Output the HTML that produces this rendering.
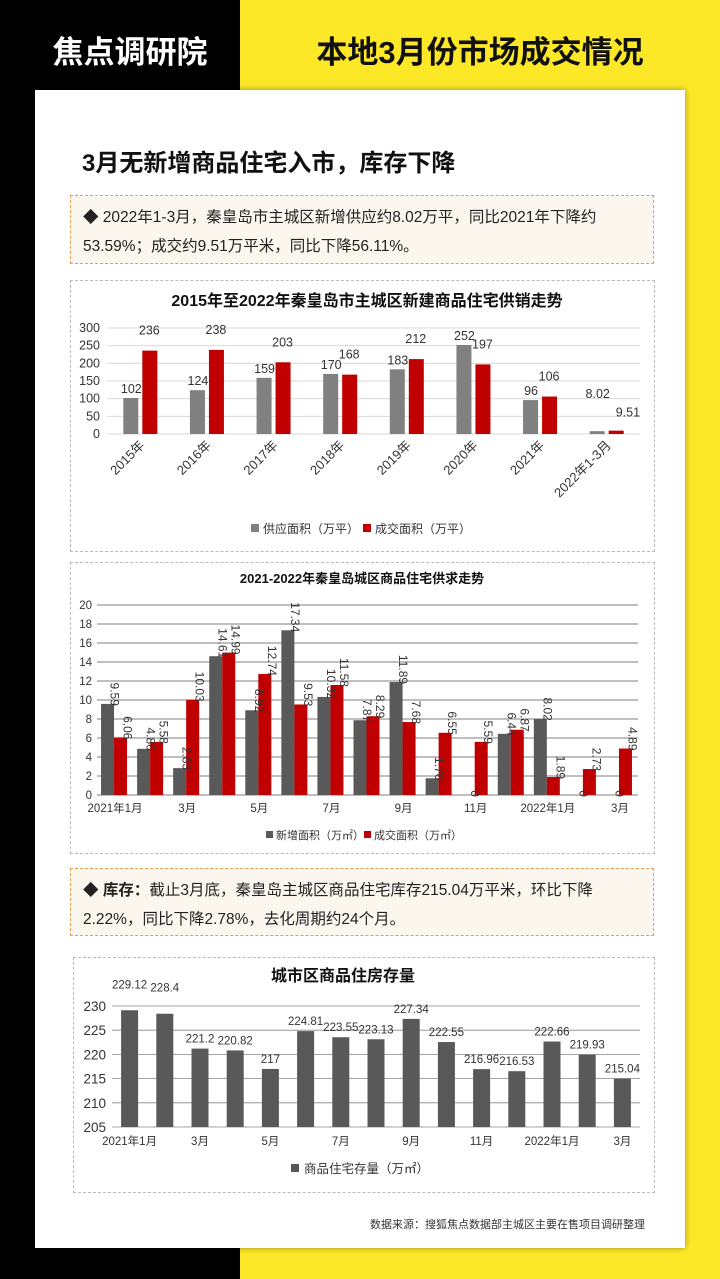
<!DOCTYPE html>
<html><head><meta charset="utf-8">
<style>
body{margin:0;width:720px;height:1279px;position:relative;overflow:hidden;font-family:"Liberation Sans","Noto Sans CJK SC",sans-serif;background:linear-gradient(to right,#000 0,#000 240px,#fde828 240px);}
.abs{position:absolute}
#card{left:35px;top:90px;width:650px;height:1158px;background:#fff;box-shadow:0 0 6px rgba(0,0,0,.4)}
.tb{background:#fbf6ee;border:1px dashed #e8a050;font-size:15.5px;color:#222;line-height:29px;padding:7px 10px 0 12px;box-sizing:border-box}
.cb{border:1px dashed #bbb;box-sizing:border-box}
svg text{font-family:"Liberation Sans","Noto Sans CJK SC",sans-serif}
</style></head><body>
<div class="abs" style="left:0;top:0;width:260px;height:100px;color:#fff;font-size:31px;font-weight:bold;text-align:center;line-height:105px">焦点调研院</div>
<div class="abs" style="left:240px;top:0;width:480px;height:100px;color:#111;font-size:31px;font-weight:bold;text-align:center;line-height:105px">本地3月份市场成交情况</div>
<div id="card" class="abs"></div>
<div class="abs" style="left:82px;top:143px;font-size:24px;font-weight:bold;color:#111">3月无新增商品住宅入市，库存下降</div>
<div class="abs tb" style="left:70px;top:195px;width:584px;height:69px">◆ 2022年1-3月，秦皇岛市主城区新增供应约8.02万平，同比2021年下降约53.59%；成交约9.51万平米，同比下降56.11%。</div>
<div class="abs cb" style="left:70px;top:280px;width:585px;height:272px"></div>
<div class="abs cb" style="left:70px;top:562px;width:585px;height:292px"></div>
<div class="abs tb" style="left:70px;top:868px;width:584px;height:68px">◆ <b>库存：</b>截止3月底，秦皇岛主城区商品住宅库存215.04万平米，环比下降2.22%，同比下降2.78%，去化周期约24个月。</div>
<div class="abs cb" style="left:73px;top:957px;width:582px;height:236px"></div>
<div class="abs" style="left:370px;top:1216px;font-size:11px;color:#333">数据来源：搜狐焦点数据部主城区主要在售项目调研整理</div>
<svg id="s" class="abs" style="left:0;top:0" width="720" height="1279"></svg>
<script>
const c1Cats=["2015年","2016年","2017年","2018年","2019年","2020年","2021年","2022年1-3月"];
const c1Supply=[102,124,159,170,183,252,96,8.02];
const c1Sales=[236,238,203,168,212,197,106,9.51];
const c1Ticks=[0,50,100,150,200,250,300];
const c2Labels=["2021年1月","","3月","","5月","","7月","","9月","","11月","","2022年1月","","3月"];
const c2New=[9.59,4.86,2.83,14.61,8.92,17.34,10.32,7.87,11.89,1.76,0,6.44,8.02,0,0];
const c2Sold=[6.06,5.58,10.03,14.99,12.74,9.53,11.58,8.29,7.68,6.55,5.59,6.87,1.89,2.73,4.89];
const c2Ticks=[0,2,4,6,8,10,12,14,16,18,20];
const c3Stock=[229.12,228.4,221.2,220.82,217,224.81,223.55,223.13,227.34,222.55,216.96,216.53,222.66,219.93,215.04];
const c3Ticks=[205,210,215,220,225,230];
const S=document.getElementById('s');
function el(t,a,txt,name){const e=document.createElementNS('http://www.w3.org/2000/svg',t);for(const k in a)e.setAttribute(k,a[k]);if(txt!==undefined)e.textContent=txt;


S.appendChild(e);return e;}
const G='#808080',R='#c00000',D='#595959';
// chart1
(function(){const x0=107,x1=640,yT=328,yB=434,mx=300;const y=v=>yB-(yB-yT)*v/mx;const gw=(x1-x0)/c1Cats.length;
el('text',{x:367,y:306,'text-anchor':'middle','font-size':16,'font-weight':'bold',fill:'#111'},'2015年至2022年秦皇岛市主城区新建商品住宅供销走势','chart1-title');
c1Ticks.forEach(t=>{el('line',{x1:x0,x2:x1,y1:y(t),y2:y(t),stroke:'#d9d9d9'},undefined,'chart1-gridline');el('text',{x:100,y:y(t)+4,'text-anchor':'end','font-size':12.5,fill:'#333'},t,'chart1-y-tick');});
c1Cats.forEach((c,i)=>{const cx=x0+gw*(i+.5);
el('rect',{x:cx-17,y:y(c1Supply[i]),width:15,height:yB-y(c1Supply[i]),fill:G},undefined,'chart1-supply-bar');
el('rect',{x:cx+2,y:y(c1Sales[i]),width:15,height:yB-y(c1Sales[i]),fill:R},undefined,'chart1-sales-bar');
const last=i==c1Cats.length-1;
el('text',{x:cx-9,y:last?y(c1Supply[i])-33:y(c1Supply[i])-5,'text-anchor':'middle','font-size':12.5,fill:'#333'},c1Supply[i],'chart1-supply-label');
el('text',{x:cx+9,y:last?y(c1Sales[i])-14:y(c1Sales[i])-16,'text-anchor':last?'start':'middle','font-size':12.5,fill:'#333'},c1Sales[i],'chart1-sales-label');
el('text',{x:cx+5,y:446,'text-anchor':'end','font-size':13,fill:'#333',transform:`rotate(-45 ${cx+5} 446)`},c,'chart1-x-label');});
el('rect',{x:251,y:524,width:8,height:8,fill:G},undefined,'legend-supply-swatch');el('text',{x:263,y:533,'font-size':12,fill:'#333'},'供应面积（万平）','legend-supply');
el('rect',{x:363,y:524,width:8,height:8,fill:R},undefined,'legend-sales-swatch');el('text',{x:375,y:533,'font-size':12,fill:'#333'},'成交面积（万平）','legend-sales');
})();
// chart2
(function(){const x0=97,x1=638,yT=605,yB=795,mx=20;const y=v=>yB-(yB-yT)*v/mx;const gw=(x1-x0)/c2New.length;
el('text',{x:362,y:583,'text-anchor':'middle','font-size':13,'font-weight':'bold',fill:'#111'},'2021-2022年秦皇岛城区商品住宅供求走势','chart2-title');
c2Ticks.forEach(t=>{el('line',{x1:x0,x2:x1,y1:y(t),y2:y(t),stroke:'#555','stroke-width':.8},undefined,'chart2-gridline');el('text',{x:92,y:y(t)+4,'text-anchor':'end','font-size':11.5,fill:'#333'},t,'chart2-y-tick');});
c2New.forEach((v,i)=>{const cx=x0+gw*(i+.5);
el('rect',{x:cx-14,y:y(v),width:13,height:yB-y(v),fill:D},undefined,'chart2-new-bar');
el('rect',{x:cx-1,y:y(c2Sold[i]),width:13,height:yB-y(c2Sold[i]),fill:R},undefined,'chart2-sold-bar');
[[v,cx-7.5],[c2Sold[i],cx+5.5]].forEach(([val,lx])=>{const ly=y(val)+2;
el('text',{x:lx,y:ly,'font-size':12,fill:'#333',transform:`rotate(90 ${lx} ${ly})`,dy:-3,'text-anchor':'end'},val,'chart2-value-label');});
if(c2Labels[i])el('text',{x:cx,y:812,'text-anchor':'middle','font-size':11.5,fill:'#333'},c2Labels[i],'chart2-x-label');});
el('rect',{x:266,y:831,width:7,height:7,fill:D},undefined,'legend-new-swatch');el('text',{x:276,y:839,'font-size':11,fill:'#333'},'新增面积（万㎡）','legend-new');
el('rect',{x:364,y:831,width:7,height:7,fill:R},undefined,'legend-sold-swatch');el('text',{x:374,y:839,'font-size':11,fill:'#333'},'成交面积（万㎡）','legend-sold');
})();
// chart3
(function(){const x0=112,x1=640,yT=1006,yB=1127,mn=205,mx=230;const y=v=>yB-(yB-yT)*(v-mn)/(mx-mn);const gw=(x1-x0)/c3Stock.length;
el('text',{x:343,y:981,'text-anchor':'middle','font-size':16,'font-weight':'bold',fill:'#111'},'城市区商品住房存量','chart3-title');
c3Ticks.forEach(t=>{el('line',{x1:x0,x2:x1,y1:y(t),y2:y(t),stroke:'#888','stroke-width':.8},undefined,'chart3-gridline');el('text',{x:106,y:y(t)+5,'text-anchor':'end','font-size':13.5,fill:'#333'},t,'chart3-y-tick');});
c3Stock.forEach((v,i)=>{const cx=x0+gw*(i+.5);
el('rect',{x:cx-8.5,y:y(v),width:17,height:yB-y(v),fill:D},undefined,'chart3-stock-bar');
el('text',{x:cx,y:y(v)-(i==0||i==1?22:6),'text-anchor':'middle','font-size':11.5,fill:'#333'},v,'chart3-value-label');
if(i%2==0)el('text',{x:cx,y:1145,'text-anchor':'middle','font-size':11.5,fill:'#333'},c2Labels[i],'chart3-x-label');});
el('rect',{x:291,y:1164,width:8,height:8,fill:D},undefined,'legend-stock-swatch');el('text',{x:304,y:1173,'font-size':12.5,fill:'#333'},'商品住宅存量（万㎡）','legend-stock');
})();
</script>
</body></html>
